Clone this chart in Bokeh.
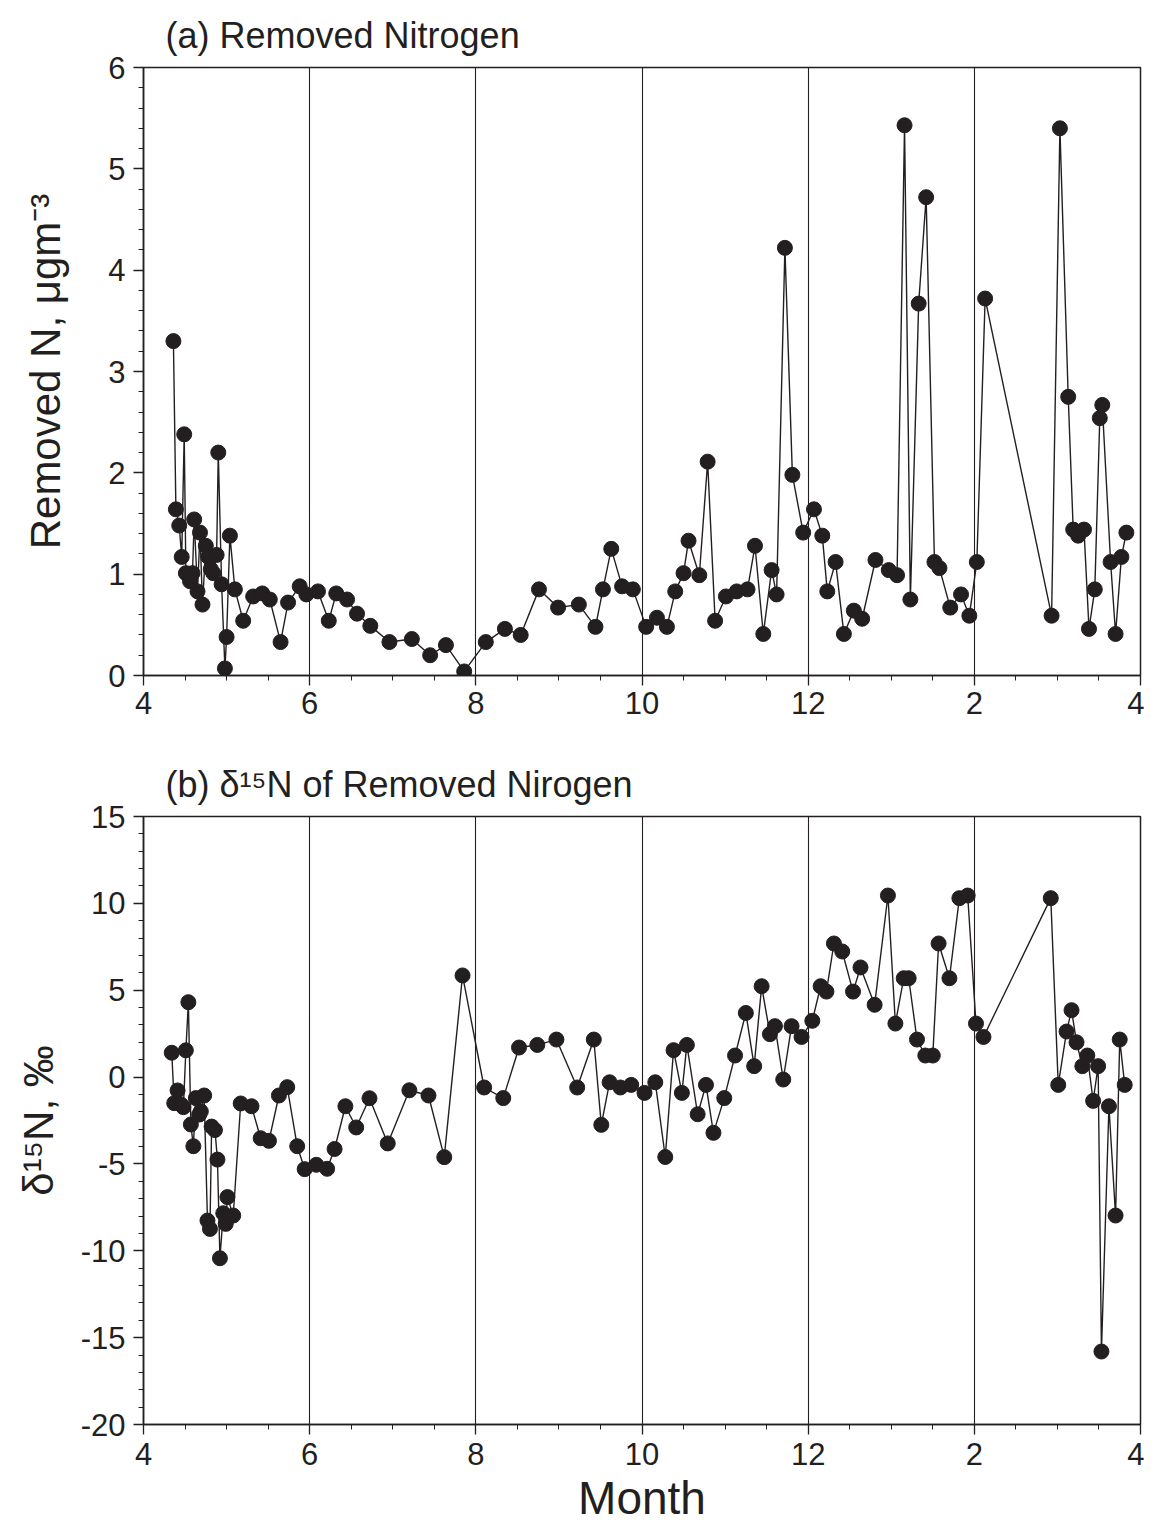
from bokeh.plotting import figure
from bokeh.layouts import column
from bokeh.models import FixedTicker, Title, Range1d
from bokeh.embed import file_html
from bokeh.resources import INLINE

# ---------------- data ----------------
month_a = [4.36, 4.39, 4.43, 4.46, 4.49, 4.51, 4.56, 4.59, 4.61, 4.65, 4.68, 4.71, 4.75, 4.78,
           4.81, 4.84, 4.88, 4.90, 4.94, 4.98, 5.00, 5.04, 5.10, 5.20, 5.32, 5.43, 5.52, 5.65,
           5.74, 5.88, 5.96, 6.10, 6.23, 6.32, 6.45, 6.57, 6.73, 6.96, 7.23, 7.45, 7.64, 7.86,
           8.12, 8.35, 8.54, 8.76, 8.99, 9.24, 9.44, 9.53, 9.63, 9.76, 9.89, 10.05, 10.18, 10.30,
           10.40, 10.50, 10.56, 10.69, 10.79, 10.88, 11.01, 11.14, 11.27, 11.36, 11.46, 11.56,
           11.62, 11.72, 11.81, 11.94, 12.07, 12.17, 12.23, 12.33, 12.43, 12.55, 12.65, 12.81,
           12.97, 13.07, 13.16, 13.23, 13.33, 13.42, 13.52, 13.58, 13.71, 13.84, 13.94, 14.03,
           14.13, 14.93, 15.03, 15.13, 15.19, 15.25, 15.32, 15.38, 15.45, 15.51, 15.54, 15.64,
           15.70, 15.77, 15.83]
removed_n = [3.30, 1.64, 1.48, 1.17, 2.38, 1.01, 0.93, 1.01, 1.54, 0.83, 1.41, 0.70, 1.28, 1.17,
             1.05, 1.01, 1.19, 2.20, 0.90, 0.07, 0.38, 1.38, 0.85, 0.54, 0.78, 0.81, 0.75, 0.33,
             0.72, 0.88, 0.80, 0.83, 0.54, 0.81, 0.75, 0.61, 0.49, 0.33, 0.36, 0.20, 0.30, 0.04,
             0.33, 0.46, 0.40, 0.85, 0.67, 0.70, 0.48, 0.85, 1.25, 0.88, 0.85, 0.48, 0.57, 0.48,
             0.83, 1.01, 1.33, 0.99, 2.11, 0.54, 0.78, 0.83, 0.85, 1.28, 0.41, 1.04,
             0.80, 4.22, 1.98, 1.41, 1.64, 1.38, 0.83, 1.12, 0.41, 0.64, 0.56, 1.14,
             1.04, 0.99, 5.43, 0.75, 3.67, 4.72, 1.12, 1.06, 0.67, 0.80, 0.59, 1.12,
             3.72, 0.59, 5.40, 2.75, 1.44, 1.38, 1.44, 0.46, 0.85, 2.54, 2.67, 1.12,
             0.41, 1.17, 1.41]

month_b = [4.34, 4.37, 4.41, 4.45, 4.48, 4.51, 4.54, 4.57, 4.60, 4.63, 4.67, 4.69, 4.73, 4.77,
           4.80, 4.82, 4.86, 4.89, 4.92, 4.96, 4.99, 5.01, 5.08, 5.17, 5.30, 5.41, 5.51, 5.63,
           5.73, 5.85, 5.94, 6.08, 6.21, 6.30, 6.43, 6.56, 6.72, 6.94, 7.20, 7.43, 7.62, 7.84,
           8.10, 8.33, 8.52, 8.74, 8.97, 9.22, 9.42, 9.51, 9.61, 9.74, 9.87, 10.03, 10.16, 10.28,
           10.38, 10.48, 10.54, 10.67, 10.77, 10.86, 10.99, 11.12, 11.25, 11.35, 11.44, 11.54,
           11.60, 11.70, 11.80, 11.92, 12.05, 12.15, 12.22, 12.31, 12.41, 12.54, 12.63, 12.80,
           12.96, 13.05, 13.15, 13.21, 13.31, 13.41, 13.50, 13.57, 13.70, 13.82, 13.92, 14.02,
           14.11, 14.92, 15.01, 15.11, 15.17, 15.23, 15.30, 15.36, 15.43, 15.49, 15.53, 15.62,
           15.70, 15.75, 15.81]
d15n = [1.40, -1.50, -0.77, -1.58, -1.73, 1.54, 4.31, -2.73, -3.98, -1.21, -2.16, -1.98, -1.06, -8.26,
        -8.74, -2.85, -3.05, -4.75, -10.43, -7.84, -8.45, -6.91, -7.97, -1.52, -1.68, -3.52, -3.67, -1.06,
        -0.58, -3.98, -5.30, -5.05, -5.28, -4.14, -1.68, -2.90, -1.22, -3.82, -0.76, -1.06, -4.61, 5.85,
        -0.60, -1.21, 1.70, 1.85, 2.16, -0.60, 2.16, -2.75, -0.30, -0.60, -0.45, -0.91, -0.30, -4.60,
        1.55, -0.91, 1.85, -2.14, -0.45, -3.21, -1.21, 1.24, 3.69, 0.63, 5.23, 2.47,
        2.93, -0.14, 2.93, 2.31, 3.24, 5.23, 4.92, 7.69, 7.23, 4.92, 6.31, 4.16,
        10.45, 3.08, 5.69, 5.69, 2.16, 1.24, 1.24, 7.69, 5.69, 10.30, 10.45, 3.08,
        2.31, 10.30, -0.45, 2.62, 3.85, 2.00, 0.63, 1.24, -1.37, 0.63, -15.80, -1.68,
        -7.97, 2.16, -0.45]

x_major = [4, 6, 8, 10, 12, 14, 16]
x_tick_labels = ["4", "6", "8", "10", "12", "2", "4"]
x_minor = [4 + 0.5 * i for i in range(25)]
month_lines = [6, 8, 10, 12, 14]

ya_major = [0, 1, 2, 3, 4, 5, 6]
ya_tick_labels = ["0", "1", "2", "3", "4", "5", "6"]
ya_minor = [round(0.2 * i, 2) for i in range(31)]
yb_major = [-20, -15, -10, -5, 0, 5, 10, 15]
yb_tick_labels = ["-20", "-15", "-10", "-5", "0", "5", "10", "15"]
yb_minor = list(range(-20, 16))

INK = "#231f20"
FONT = "Liberation Sans"


def make_panel(xs, ys, title, ylabel, yr, ymaj, ylabels, ymin, height, btop, bbot,
               ylabel_standoff, xtick_standoff, xlabel=None):
    p = figure(width=1144, height=height, output_backend="svg", toolbar_location=None,
               x_range=Range1d(4, 16), y_range=Range1d(*yr),
               min_border_left=143, min_border_right=4,
               min_border_top=btop, min_border_bottom=bbot)
    p.background_fill_color = "white"
    p.border_fill_color = "white"
    p.outline_line_color = INK
    p.outline_line_width = 1.5

    t = Title(text=title, align="left", offset=22, text_font=FONT,
              text_font_size="36px", text_font_style="normal", text_color=INK,
              standoff=24)
    p.add_layout(t, "above")

    # grids: only vertical month separators
    p.ygrid.visible = False
    p.xgrid.ticker = FixedTicker(ticks=month_lines)
    p.xgrid.grid_line_color = INK
    p.xgrid.grid_line_width = 1.1

    for ax, maj, mn in ((p.xaxis[0], x_major, x_minor), (p.yaxis[0], ymaj, ymin)):
        ax.ticker = FixedTicker(ticks=maj, minor_ticks=mn)
        ax.axis_line_color = INK
        ax.axis_line_width = 1.5
        ax.major_tick_line_color = INK
        ax.minor_tick_line_color = INK
        ax.major_tick_line_width = 1.3
        ax.minor_tick_line_width = 1.0
        ax.major_tick_in = 0
        ax.major_tick_out = 10
        ax.minor_tick_in = 0
        ax.minor_tick_out = 5
        ax.major_label_text_font = FONT
        ax.major_label_text_font_size = "31px"
        ax.major_label_text_color = INK
        ax.axis_label_text_font = FONT
        ax.axis_label_text_font_style = "normal"
        ax.axis_label_text_color = INK

    p.xaxis[0].major_label_overrides = {v: s for v, s in zip(x_major, x_tick_labels)}
    p.yaxis[0].major_label_overrides = {v: s for v, s in zip(ymaj, ylabels)}
    p.xaxis[0].major_label_standoff = xtick_standoff
    p.yaxis[0].major_label_standoff = 8
    p.yaxis[0].axis_label = ylabel
    p.yaxis[0].axis_label_text_font_size = "42px"
    p.yaxis[0].axis_label_standoff = ylabel_standoff
    if xlabel:
        p.xaxis[0].axis_label = xlabel
        p.xaxis[0].axis_label_text_font_size = "46px"
        p.xaxis[0].axis_label_standoff = 4

    p.line(xs, ys, line_color=INK, line_width=1.4)
    p.scatter(xs, ys, size=15, fill_color=INK, line_color=INK, line_width=1)
    return p


pa = make_panel(month_a, removed_n, "(a) Removed Nitrogen", "Removed N, μgm⁻³",
                (0, 6), ya_major, ya_tick_labels, ya_minor, 749, 67, 74, 36, 6)
pb = make_panel(month_b, d15n, "(b) δ¹⁵N of Removed Nirogen", "δ¹⁵N, ‰",
                (-20, 15), yb_major, yb_tick_labels, yb_minor, 781, 67, 106, 16, 8,
                xlabel="Month")

layout = column(pa, pb, spacing=0)
open("out.html", "w").write(file_html(layout, INLINE))
